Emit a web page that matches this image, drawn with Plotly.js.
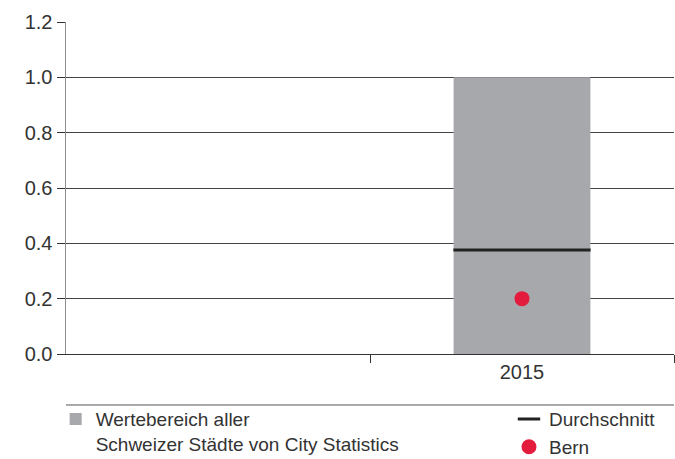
<!DOCTYPE html>
<html>
<head>
<meta charset="utf-8">
<script src="https://cdn.plot.ly/plotly-3.0.1.min.js"></script>
<style>html,body{margin:0;padding:0;background:#fff;}#chart{width:675px;height:459px;}</style>
</head>
<body>
<div id="chart"></div>
<script>
const categories = ["2015"];
const rangeMin = [0.0];
const rangeMax = [1.0];
const meanValues = [0.376];
const bernValues = [0.2];
const yTickValues = [0, 0.2, 0.4, 0.6, 0.8, 1.0, 1.2];
const yTickLabels = ["0.0", "0.2", "0.4", "0.6", "0.8", "1.0", "1.2"];
const seriesNames = {
  range: "Wertebereich aller<br>Schweizer Städte von City Statistics",
  mean: "Durchschnitt",
  bern: "Bern"
};

const textColor = "#333333";
const fontFamily = "Liberation Sans, Arial, sans-serif";

const traces = [
  {
    type: "bar",
    x: categories,
    base: rangeMin,
    y: rangeMax.map((v, i) => v - rangeMin[i]),
    width: 0.45,
    marker: { color: "#a7a8ab", line: { width: 0 } },
    name: seriesNames.range,
    legend: "legend",
    hoverinfo: "skip"
  },
  {
    type: "scatter",
    mode: "markers",
    x: categories,
    y: meanValues,
    marker: { symbol: "line-ew", size: 98, color: "#222222", line: { color: "#222222", width: 3 } },
    name: seriesNames.mean,
    legend: "legend2",
    hoverinfo: "skip"
  },
  {
    type: "scatter",
    mode: "markers",
    x: categories,
    y: bernValues,
    marker: { symbol: "circle", size: 15, color: "#e31c3d", line: { width: 0 } },
    name: seriesNames.bern,
    legend: "legend2",
    hoverinfo: "skip"
  }
];

const legendBase = {
  xanchor: "left",
  yanchor: "top",
  valign: "top",
  bgcolor: "rgba(0,0,0,0)",
  borderwidth: 0,
  font: { family: fontFamily, size: 19, color: textColor },
  orientation: "v"
};

const layout = {
  width: 675,
  height: 459,
  margin: { l: 66, r: 1, t: 22, b: 105, pad: 0, autoexpand: false },
  paper_bgcolor: "#ffffff",
  plot_bgcolor: "#ffffff",
  font: { family: fontFamily, size: 20, color: textColor },
  showlegend: true,
  barmode: "overlay",
  xaxis: {
    type: "category",
    range: [-1.5, 0.5],
    tickson: "boundaries",
    ticks: "outside",
    ticklen: 8,
    tickwidth: 1,
    tickcolor: "#333333",
    showline: true,
    linecolor: "#333333",
    linewidth: 1,
    showgrid: false,
    zeroline: false,
    tickfont: { family: fontFamily, size: 20, color: textColor },
    fixedrange: true
  },
  yaxis: {
    range: [0, 1.2],
    tickmode: "array",
    tickvals: yTickValues,
    ticktext: yTickLabels,
    ticks: "outside",
    ticklen: 8,
    tickwidth: 1,
    tickcolor: "#333333",
    showgrid: true,
    gridcolor: "#444444",
    gridwidth: 1,
    showline: true,
    linecolor: "#8c8c8c",
    linewidth: 1.5,
    zeroline: false,
    tickfont: { family: fontFamily, size: 20, color: textColor },
    fixedrange: true
  },
  legend: Object.assign({}, legendBase, { x: -0.017, y: -0.139 }),
  legend2: Object.assign({}, legendBase, { x: 0.7286, y: -0.139 }),
  shapes: [
    {
      type: "line",
      xref: "paper",
      yref: "paper",
      x0: 0, x1: 1,
      y0: -0.1536, y1: -0.1536,
      line: { color: "#555555", width: 1 }
    }
  ]
};

Plotly.newPlot("chart", traces, layout, { staticPlot: true, displayModeBar: false });
</script>
</body>
</html>
